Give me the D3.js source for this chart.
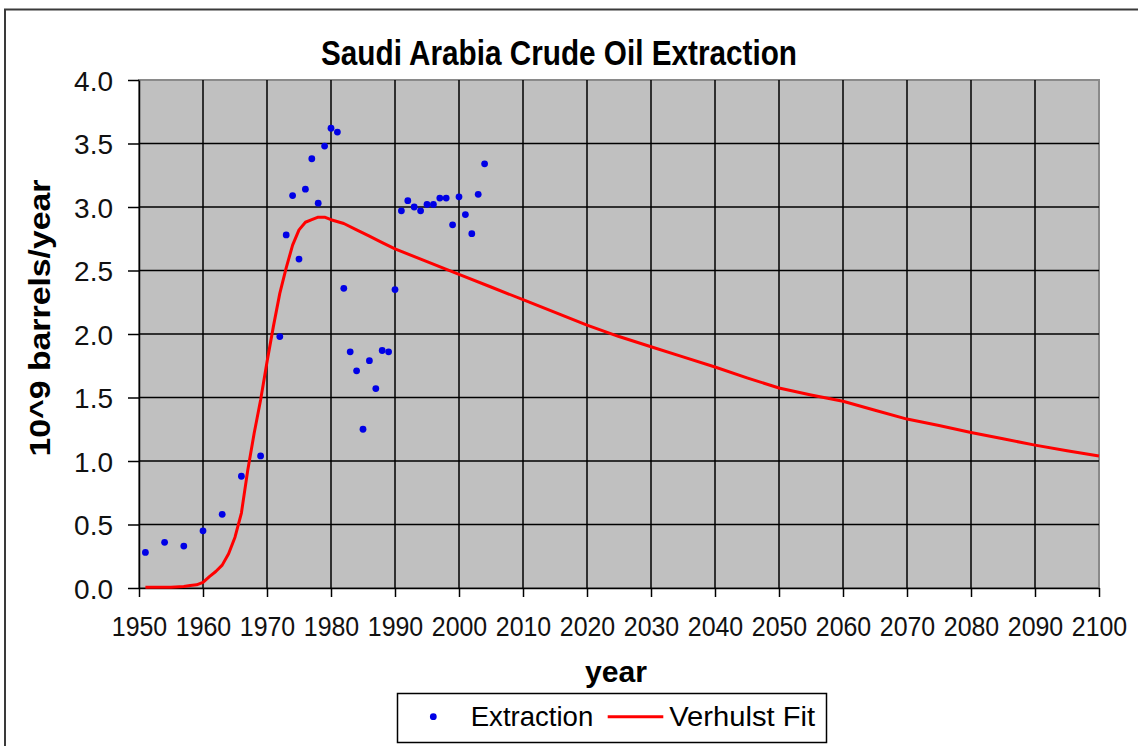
<!DOCTYPE html>
<html>
<head>
<meta charset="utf-8">
<script src="https://cdn.jsdelivr.net/npm/d3@7"></script>
<style>
  html, body { margin: 0; padding: 0; background: #fff; }
  svg { display: block; font-family: "Liberation Sans", Arial, sans-serif; }
</style>
</head>
<body>
<svg id="chart" width="1138" height="746"></svg>
<script>
// ---- data ----
const chartTitle = "Saudi Arabia Crude Oil Extraction";
const xTitle = "year";
const yTitle = "10^9 barrels/year";
const seriesNames = ["Extraction", "Verhulst Fit"];

const xTicks = [1950, 1960, 1970, 1980, 1990, 2000, 2010, 2020, 2030, 2040, 2050, 2060, 2070, 2080, 2090, 2100];
const yTicks = [0.0, 0.5, 1.0, 1.5, 2.0, 2.5, 3.0, 3.5, 4.0];

const extractionYears = [1951, 1954, 1957, 1960, 1963, 1966, 1969, 1972, 1973, 1974, 1975, 1976, 1977, 1978, 1979, 1980, 1981, 1982, 1983, 1984, 1985, 1986, 1987, 1988, 1989, 1990, 1991, 1992, 1993, 1994, 1995, 1996, 1997, 1998, 1999, 2000, 2001, 2002, 2003, 2004];
const extractionValues = [0.28, 0.36, 0.33, 0.45, 0.58, 0.88, 1.04, 1.98, 2.78, 3.09, 2.59, 3.14, 3.38, 3.03, 3.48, 3.62, 3.59, 2.36, 1.86, 1.71, 1.25, 1.79, 1.57, 1.87, 1.86, 2.35, 2.97, 3.05, 3.00, 2.97, 3.02, 3.02, 3.07, 3.07, 2.86, 3.08, 2.94, 2.79, 3.10, 3.34];

const fitYears = [1951, 1953, 1955, 1957, 1958, 1959, 1960, 1961, 1962, 1963, 1964, 1965, 1966, 1967, 1968, 1969, 1970, 1971, 1972, 1973, 1974, 1975, 1976, 1977, 1978, 1979, 1980, 1982, 1984, 1986, 1988, 1990, 1995, 2000, 2005, 2010, 2015, 2020, 2025, 2030, 2035, 2040, 2045, 2050, 2055, 2060, 2065, 2070, 2075, 2080, 2085, 2090, 2095, 2100];
const fitValues = [0.005, 0.005, 0.006, 0.012, 0.02, 0.025, 0.045, 0.09, 0.13, 0.18, 0.27, 0.40, 0.59, 0.93, 1.22, 1.48, 1.78, 2.06, 2.32, 2.52, 2.70, 2.82, 2.88, 2.90, 2.92, 2.92, 2.90, 2.87, 2.82, 2.77, 2.72, 2.67, 2.57, 2.47, 2.37, 2.27, 2.17, 2.07, 1.98, 1.90, 1.82, 1.74, 1.655, 1.575, 1.52, 1.47, 1.40, 1.33, 1.28, 1.225, 1.175, 1.125, 1.08, 1.04];

// ---- layout ----
const svg = d3.select("#chart");
const plot = { left: 139, right: 1099, top: 80, bottom: 588 };

const x = d3.scaleLinear().domain([1950, 2100]).range([plot.left, plot.right]);
const y = d3.scaleLinear().domain([0, 4]).range([plot.bottom, plot.top]);

// outer chart border (left/top visible)
svg.append("rect")
  .attr("x", 5).attr("y", 9.5).attr("width", 1200).attr("height", 800)
  .attr("fill", "#fff").attr("stroke", "#3a3a3a").attr("stroke-width", 2);

// plot background
svg.append("rect")
  .attr("x", plot.left).attr("y", plot.top)
  .attr("width", plot.right - plot.left).attr("height", plot.bottom - plot.top)
  .attr("fill", "#c0c0c0").attr("stroke", "#8a8a8a").attr("stroke-width", 2);

// gridlines
const grid = svg.append("g").attr("stroke", "#000").attr("stroke-width", 1.5);
grid.selectAll("line.v").data(xTicks.filter(t => t > 1950 && t < 2100)).join("line")
  .attr("x1", d => x(d)).attr("x2", d => x(d)).attr("y1", plot.top).attr("y2", plot.bottom);
grid.selectAll("line.h").data(yTicks.filter(t => t > 0 && t < 4)).join("line")
  .attr("x1", plot.left).attr("x2", plot.right).attr("y1", d => y(d)).attr("y2", d => y(d));

// axes
const xAxis = svg.append("g")
  .attr("transform", `translate(0,${plot.bottom})`)
  .call(d3.axisBottom(x).tickValues(xTicks).tickFormat(d3.format("d")).tickSize(9).tickSizeOuter(0));
const yAxis = svg.append("g")
  .attr("transform", `translate(${plot.left},0)`)
  .call(d3.axisLeft(y).tickValues(yTicks).tickFormat(d3.format(".1f")).tickSize(11).tickSizeOuter(0));

[xAxis, yAxis].forEach(a => {
  a.select(".domain").attr("stroke", "#000").attr("stroke-width", 1.5);
  a.selectAll(".tick line").attr("stroke", "#000").attr("stroke-width", 1.5);
  a.selectAll(".tick text").attr("fill", "#111").attr("font-size", 28)
    .attr("x", null).attr("y", null).attr("dy", null);
});
xAxis.selectAll(".tick text").attr("text-anchor", "middle")
  .attr("transform", "translate(0,48) scale(0.89,1)");
yAxis.selectAll(".tick text").attr("text-anchor", "end")
  .attr("transform", "translate(-26,10)");

// fit line
const line = d3.line().x((d, i) => x(fitYears[i])).y(d => y(d));
svg.append("path").datum(fitValues)
  .attr("d", line).attr("fill", "none")
  .attr("stroke", "#ff0000").attr("stroke-width", 3).attr("stroke-linejoin", "round");

// extraction points
svg.append("g").selectAll("circle").data(extractionValues).join("circle")
  .attr("cx", (d, i) => x(extractionYears[i])).attr("cy", d => y(d))
  .attr("r", 3.4).attr("fill", "#0000e6");

// text helper
function txt(str, tx, ty, opts) {
  const t = svg.append("text")
    .attr("transform", `translate(${tx},${ty})` + (opts.rot ? ` rotate(${opts.rot})` : "") + (opts.sy ? ` scale(1,${opts.sy})` : ""))
    .attr("text-anchor", opts.anchor || "start")
    .attr("font-size", opts.size)
    .attr("font-weight", opts.weight || "normal")
    .attr("fill", "#000")
    .text(str);
  if (opts.len) t.attr("textLength", opts.len).attr("lengthAdjust", "spacingAndGlyphs");
  return t;
}

// titles
txt(chartTitle, 559, 65, { size: 30, weight: "bold", anchor: "middle", len: 476, sy: 1.14 });
txt(xTitle, 616, 682, { size: 29, weight: "bold", anchor: "middle", len: 62 });
txt(yTitle, 50, 318, { size: 30, weight: "bold", anchor: "middle", len: 277, rot: -90 });

// legend
const lg = { x0: 397.5, y0: 693.5, x1: 826.5, y1: 742.5 };
svg.append("rect")
  .attr("x", lg.x0).attr("y", lg.y0).attr("width", lg.x1 - lg.x0).attr("height", lg.y1 - lg.y0)
  .attr("fill", "#fff").attr("stroke", "#000").attr("stroke-width", 1.5);
const ly = 716.7;
svg.append("circle").attr("cx", 433.3).attr("cy", ly).attr("r", 3.4).attr("fill", "#0000e6");
txt(seriesNames[0], 470.7, 725.7, { size: 27.5, len: 122.6 });
svg.append("line").attr("x1", 607.7).attr("x2", 663.3).attr("y1", ly).attr("y2", ly)
  .attr("stroke", "#ff0000").attr("stroke-width", 3);
txt(seriesNames[1], 669.3, 725.7, { size: 27.5, len: 145.7 });
</script>
</body>
</html>
